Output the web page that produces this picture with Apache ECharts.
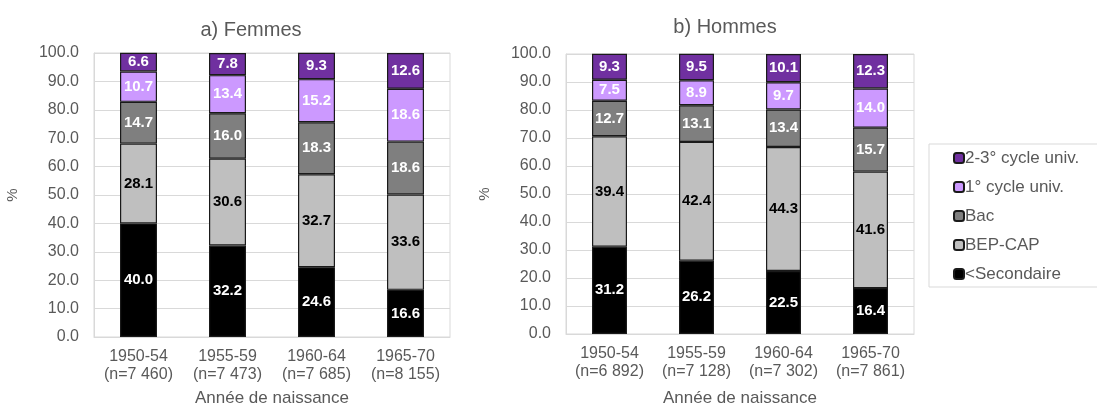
<!DOCTYPE html>
<html>
<head>
<meta charset="utf-8">
<script src="https://cdn.jsdelivr.net/npm/echarts@6/dist/echarts.min.js"></script>
<style>
  html, body { margin: 0; padding: 0; background: #fff; }
  #chart { width: 1097px; height: 412px; }
</style>
</head>
<body>
<div id="chart"></div>
<script>
// data
const levels = ['2-3° cycle univ.', '1° cycle univ.', 'Bac', 'BEP-CAP', '<Secondaire']
const catsF = ['1950-54\n(n=7 460)', '1955-59\n(n=7 473)', '1960-64\n(n=7 685)', '1965-70\n(n=8 155)']
const catsH = ['1950-54\n(n=6 892)', '1955-59\n(n=7 128)', '1960-64\n(n=7 302)', '1965-70\n(n=7 861)']

const femSecondaire = [40.0, 32.2, 24.6, 16.6]
const femBepCap = [28.1, 30.6, 32.7, 33.6]
const femBac = [14.7, 16.0, 18.3, 18.6]
const femUniv1 = [10.7, 13.4, 15.2, 18.6]
const femUniv23 = [6.6, 7.8, 9.3, 12.6]

const homSecondaire = [31.2, 26.2, 22.5, 16.4]
const homBepCap = [39.4, 42.4, 44.3, 41.6]
const homBac = [12.7, 13.1, 13.4, 15.7]
const homUniv1 = [7.5, 8.9, 9.7, 14.0]
const homUniv23 = [9.3, 9.5, 10.1, 12.3]

const yTicks = { min: 0, max: 100, interval: 10 }

// styles per level (bottom to top)
const stackOrder = [
  { name: '<Secondaire', color: '#000000', text: '#ffffff' },
  { name: 'BEP-CAP', color: '#bfbfbf', text: '#000000' },
  { name: 'Bac', color: '#7f7f7f', text: '#ffffff' },
  { name: '1° cycle univ.', color: '#cc99ff', text: '#ffffff' },
  { name: '2-3° cycle univ.', color: '#7030a0', text: '#ffffff' }
]

const fem = [femSecondaire, femBepCap, femBac, femUniv1, femUniv23]
const hom = [homSecondaire, homBepCap, homBac, homUniv1, homUniv23]

const font = 'Liberation Sans, Arial, sans-serif'
const grey = '#595959'

function makeSeries(values, idx, barW) {
  return stackOrder.map((s, i) => ({
    name: s.name,
    type: 'bar',
    stack: 'g' + idx,
    xAxisIndex: idx,
    yAxisIndex: idx,
    barWidth: barW,
    data: values[i],
    itemStyle: { color: s.color, borderColor: '#1a1a1a', borderWidth: 1.2 },
    label: {
      show: true,
      position: 'inside',
      color: s.text,
      fontFamily: font,
      fontWeight: 'bold',
      fontSize: 15,
      formatter: p => p.value.toFixed(1)
    },
    emphasis: { disabled: true }
  }))
}

function xAxis(idx, cats, gap) {
  return {
    type: 'category',
    gridIndex: idx,
    data: cats,
    axisTick: { show: false },
    axisLine: { lineStyle: { color: '#d9d9d9' } },
    axisLabel: {
      interval: 0, hideOverlap: false,
      color: grey, fontFamily: font, fontSize: 16, lineHeight: 18, margin: 11
    },
    name: 'Année de naissance',
    nameLocation: 'middle',
    nameGap: gap,
    nameTextStyle: { color: grey, fontFamily: font, fontSize: 17 }
  }
}

function yAxis(idx) {
  return {
    type: 'value',
    gridIndex: idx,
    min: yTicks.min,
    max: yTicks.max,
    interval: yTicks.interval,
    axisLine: { show: true, lineStyle: { color: '#d9d9d9' } },
    axisTick: { show: false },
    splitLine: { lineStyle: { color: '#d9d9d9' } },
    axisLabel: {
      color: grey, fontFamily: font, fontSize: 16, margin: 15,
      formatter: v => v.toFixed(1)
    },
    name: '%',
    nameLocation: 'middle',
    nameGap: 74,
    nameTextStyle: { color: grey, fontFamily: font, fontSize: 15 }
  }
}

const chart = echarts.init(document.getElementById('chart'))
chart.setOption({
  animation: false,
  title: [
    { text: 'a) Femmes', left: 246, top: 15, textAlign: 'center',
      textStyle: { color: grey, fontFamily: font, fontSize: 20, fontWeight: 'normal' } },
    { text: 'b) Hommes', left: 720, top: 12, textAlign: 'center',
      textStyle: { color: grey, fontFamily: font, fontSize: 20, fontWeight: 'normal' } }
  ],
  legend: {
    data: levels,
    orient: 'vertical',
    left: 929,
    top: 144,
    width: 170,
    padding: [5, 40, 4, 24],
    itemGap: 11,
    itemWidth: 10,
    itemHeight: 10,
    borderColor: '#d9d9d9',
    borderWidth: 1,
    textStyle: { color: grey, fontFamily: font, fontSize: 17, lineHeight: 18, padding: [0, 0, 0, -4] },
    selectedMode: false
  },
  grid: [
    { left: 94, top: 53, width: 356, bottom: 71, show: true, borderColor: '#d9d9d9', borderWidth: 1 },
    { left: 566, top: 54, width: 348, bottom: 74, show: true, borderColor: '#d9d9d9', borderWidth: 1 }
  ],
  xAxis: [xAxis(0, catsF, 53), xAxis(1, catsH, 56)],
  yAxis: [yAxis(0), yAxis(1)],
  series: makeSeries(fem, 0, 37).concat(makeSeries(hom, 1, 35))
})
</script>
</body>
</html>
